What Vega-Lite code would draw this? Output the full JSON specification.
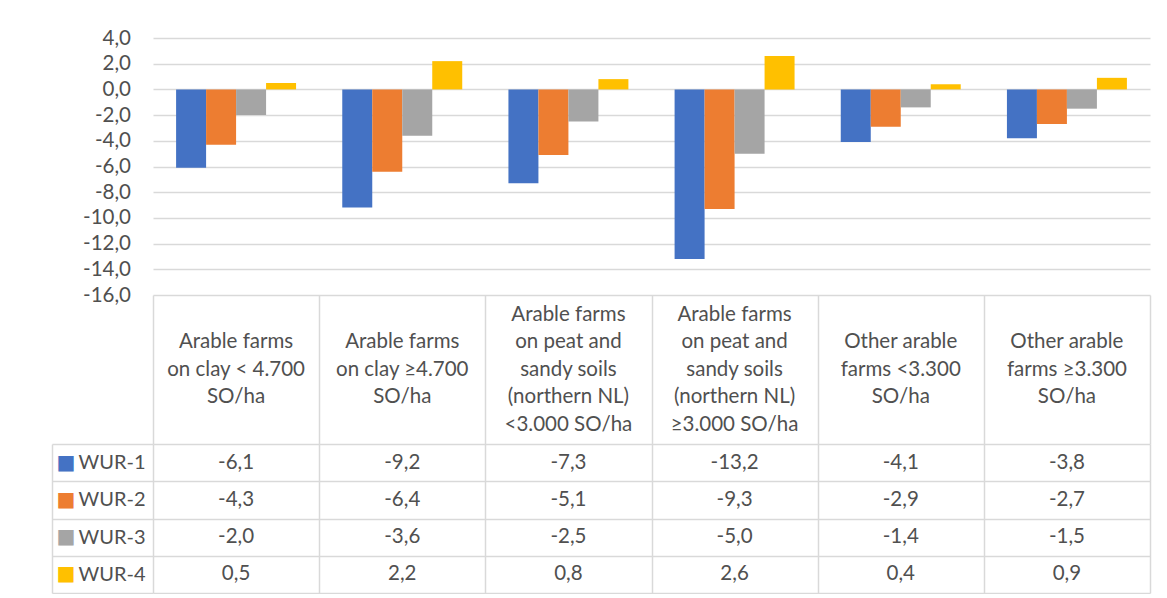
{
  "$schema": "https://vega.github.io/schema/vega-lite/v6.json",
  "padding": {"left": 51, "top": 28, "right": 5, "bottom": 0},
  "background": "white",
  "spacing": 0,
  "bounds": "flush",
  "resolve": {"scale": {"x": "independent", "y": "independent"}},
  "config": {
    "font": "Lato",
    "view": {"stroke": null},
    "axis": {"gridColor": "#d9d9d9", "gridWidth": 1.5, "labelFont": "Lato"},
    "locale": {"number": {"decimal": ",", "thousands": ".", "grouping": [3], "currency": ["", " €"], "minus": "-"}}
  },
  "datasets": {
    "d": [
      {"cat": "Arable farms\non clay < 4.700\nSO/ha", "series": "WUR-1", "value": -6.1},
      {"cat": "Arable farms\non clay ≥4.700\nSO/ha", "series": "WUR-1", "value": -9.2},
      {"cat": "Arable farms\non peat and\nsandy soils\n(northern NL)\n<3.000 SO/ha", "series": "WUR-1", "value": -7.3},
      {"cat": "Arable farms\non peat and\nsandy soils\n(northern NL)\n≥3.000 SO/ha", "series": "WUR-1", "value": -13.2},
      {"cat": "Other arable\nfarms  <3.300\nSO/ha", "series": "WUR-1", "value": -4.1},
      {"cat": "Other arable\nfarms ≥3.300\nSO/ha", "series": "WUR-1", "value": -3.8},
      {"cat": "Arable farms\non clay < 4.700\nSO/ha", "series": "WUR-2", "value": -4.3},
      {"cat": "Arable farms\non clay ≥4.700\nSO/ha", "series": "WUR-2", "value": -6.4},
      {"cat": "Arable farms\non peat and\nsandy soils\n(northern NL)\n<3.000 SO/ha", "series": "WUR-2", "value": -5.1},
      {"cat": "Arable farms\non peat and\nsandy soils\n(northern NL)\n≥3.000 SO/ha", "series": "WUR-2", "value": -9.3},
      {"cat": "Other arable\nfarms  <3.300\nSO/ha", "series": "WUR-2", "value": -2.9},
      {"cat": "Other arable\nfarms ≥3.300\nSO/ha", "series": "WUR-2", "value": -2.7},
      {"cat": "Arable farms\non clay < 4.700\nSO/ha", "series": "WUR-3", "value": -2.0},
      {"cat": "Arable farms\non clay ≥4.700\nSO/ha", "series": "WUR-3", "value": -3.6},
      {"cat": "Arable farms\non peat and\nsandy soils\n(northern NL)\n<3.000 SO/ha", "series": "WUR-3", "value": -2.5},
      {"cat": "Arable farms\non peat and\nsandy soils\n(northern NL)\n≥3.000 SO/ha", "series": "WUR-3", "value": -5.0},
      {"cat": "Other arable\nfarms  <3.300\nSO/ha", "series": "WUR-3", "value": -1.4},
      {"cat": "Other arable\nfarms ≥3.300\nSO/ha", "series": "WUR-3", "value": -1.5},
      {"cat": "Arable farms\non clay < 4.700\nSO/ha", "series": "WUR-4", "value": 0.5},
      {"cat": "Arable farms\non clay ≥4.700\nSO/ha", "series": "WUR-4", "value": 2.2},
      {"cat": "Arable farms\non peat and\nsandy soils\n(northern NL)\n<3.000 SO/ha", "series": "WUR-4", "value": 0.8},
      {"cat": "Arable farms\non peat and\nsandy soils\n(northern NL)\n≥3.000 SO/ha", "series": "WUR-4", "value": 2.6},
      {"cat": "Other arable\nfarms  <3.300\nSO/ha", "series": "WUR-4", "value": 0.4},
      {"cat": "Other arable\nfarms ≥3.300\nSO/ha", "series": "WUR-4", "value": 0.9}
    ]
  },
  "vconcat": [
    {
      "width": 997,
      "height": 257,
      "data": {"name": "d"},
      "mark": {"type": "bar"},
      "encoding": {
        "x": {"field": "cat", "type": "nominal", "sort": null, "axis": null, "scale": {"paddingInner": 0.278, "paddingOuter": 0.139}},
        "xOffset": {"field": "series", "type": "nominal", "scale": {"paddingInner": 0, "paddingOuter": 0}},
        "y": {
          "field": "value", "type": "quantitative", "stack": null,
          "scale": {"domain": [-16, 4], "nice": false},
          "axis": {"values": [-16, -14, -12, -10, -8, -6, -4, -2, 0, 2, 4], "format": ".1f", "title": null, "domain": false, "ticks": false, "grid": true, "labelPadding": 22.5, "labelFontSize": 20.5, "labelColor": "#505050"}
        },
        "color": {"field": "series", "type": "nominal", "scale": {"domain": ["WUR-1", "WUR-2", "WUR-3", "WUR-4"], "range": ["#4472C4", "#ED7D31", "#A5A5A5", "#FFC000"]}, "legend": null}
      }
    },
    {
      "width": 997,
      "height": 149,
      "data": {"name": "d"},
      "transform": [{"filter": "datum.series === 'WUR-1'"}],
      "mark": {"type": "text", "lineBreak": "\n", "lineHeight": 27.5, "fontSize": 20.5, "color": "#505050", "baseline": "middle", "align": "center",
        "dy": {"expr": "-(length(split(datum.cat, '\\n')) - 1) * 13.75"}},
      "encoding": {
        "x": {"field": "cat", "type": "nominal", "sort": null, "scale": {"padding": 0}, "axis": {"orient": "top", "title": null, "labels": false, "ticks": false, "domain": false, "grid": true, "tickBand": "extent"}},
        "text": {"field": "cat"}
      }
    },
    {
      "width": 997,
      "height": 149,
      "data": {"name": "d"},
      "resolve": {"axis": {"y": "independent"}},
      "layer": [
        {
          "mark": {"type": "text", "fontSize": 20.5, "color": "#505050"},
          "encoding": {
            "x": {"field": "cat", "type": "nominal", "sort": null, "scale": {"padding": 0}, "axis": {"title": null, "labels": false, "ticks": false, "domain": false, "grid": true, "tickBand": "extent"}},
            "y": {"field": "series", "type": "nominal", "scale": {"padding": 0, "domain": ["WUR-1", "WUR-2", "WUR-3", "WUR-4"]}, "axis": {"orient": "left", "title": null, "domain": false, "grid": true, "tickBand": "extent", "ticks": true, "tickSize": 101, "tickColor": "#d9d9d9", "tickWidth": 1.5, "labelPadding": -93, "labelFontSize": 20, "labelColor": "#505050"}},
            "text": {"field": "value", "type": "quantitative", "format": ".1f"}
          }
        },
        {
          "mark": {"type": "rect", "opacity": 0},
          "encoding": {
            "y": {"field": "series", "type": "nominal", "axis": {"orient": "left", "title": null, "domain": false, "grid": false, "ticks": false, "labelExpr": "'■'", "labelFont": "DejaVu Sans", "labelFontSize": 20, "labelPadding": 78,
              "labelColor": {"condition": [{"test": "datum.value === 'WUR-1'", "value": "#4472C4"}, {"test": "datum.value === 'WUR-2'", "value": "#ED7D31"}, {"test": "datum.value === 'WUR-3'", "value": "#A5A5A5"}], "value": "#FFC000"}}}
          }
        },
        {
          "mark": {"type": "rect", "opacity": 0},
          "encoding": {
            "y": {"field": "series", "type": "nominal", "axis": {"orient": "left", "offset": 101, "title": null, "labels": false, "ticks": false, "grid": false, "domain": true, "domainColor": "#d9d9d9", "domainWidth": 1.5}}
          }
        }
      ]
    }
  ]
}
